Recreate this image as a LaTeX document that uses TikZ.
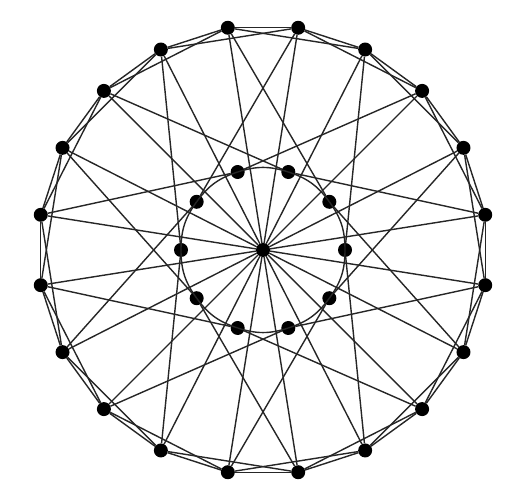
\documentclass[tikz,border=0pt]{standalone}
\begin{document}
\begin{tikzpicture}
    [x=0.05cm,y=0.05cm,every node/.style={circle, fill=black, inner sep=0pt, minimum size=0.7cm}]
    \useasboundingbox (0,0) rectangle (522,498);
    \node (c) at (263,248) {};
    \begin{scope}[shift={(263,248)}]
      \foreach \m in {0,...,9}
        \node (i\m) at (36*\m:82) {};
      \foreach \k in {0,...,19}
        \node (o\k) at (9+18*\k:225) {};
    \end{scope}

    \begin{scope}[line width=2pt, black!85]
      \foreach \m in {0,...,9} {
        \pgfmathtruncatemacro\nb{mod(\m+1,10)}
        \draw (i\m.center) to[bend right=18] (i\nb.center);
      }
      \foreach \k in {0,...,19} {
        \pgfmathtruncatemacro\nb{mod(\k+1,20)}
        \pgfmathtruncatemacro\nbb{mod(\k+2,20)}
        \pgfmathtruncatemacro\inr{mod(iseven(\k)*(\k/2+2)+isodd(\k)*((\k+17)/2),10)}
        \draw (o\k) -- (o\nb);
        \draw (o\k) -- (o\nbb);
        \draw (c) -- (o\k);
        \draw (o\k) -- (i\inr);
      }
    \end{scope}
\end{tikzpicture}
\end{document}
